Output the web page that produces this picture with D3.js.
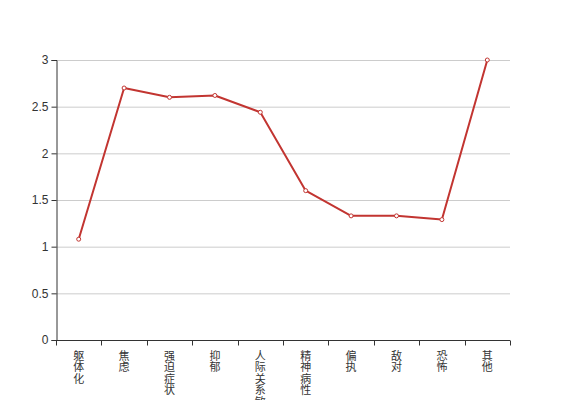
<!DOCTYPE html>
<html><head><meta charset="utf-8">
<script src="https://cdn.jsdelivr.net/npm/d3@7"></script>
<style>body{margin:0;background:#fff;} text{font-family:"Noto Sans CJK SC","DejaVu Sans",sans-serif;}</style>
</head><body><svg id="c" width="567" height="400"></svg>
<script>
const categories = ["躯体化","焦虑","强迫症状","抑郁","人际关系敏感","精神病性","偏执","敌对","恐怖","其他"];
const values = [1.08, 2.70, 2.60, 2.62, 2.44, 1.60, 1.33, 1.33, 1.29, 3.0];
const yTicks = [0, 0.5, 1, 1.5, 2, 2.5, 3];
const yTickLabels = ["0","0.5","1","1.5","2","2.5","3"];

const svg = d3.select("#c");
const m = {left:56, right:57, top:60, bottom:60};
const W = 567, H = 400;
const x = d3.scaleBand().domain(categories).range([m.left, W - m.right]);
const y = d3.scaleLinear().domain([0,3]).range([H - m.bottom, m.top]);

// grid
svg.append("g").selectAll("line").data(yTicks.filter(d=>d>0)).join("line")
  .attr("x1", m.left).attr("x2", W - m.right)
  .attr("y1", d=>y(d)+0.5).attr("y2", d=>y(d)+0.5)
  .attr("stroke","#ccc").attr("stroke-width",1);

// y axis
const ya = svg.append("g").attr("transform",`translate(${m.left+0.5},0)`)
  .call(d3.axisLeft(y).tickValues(yTicks).tickFormat((d,i)=>yTickLabels[i]).tickSize(5).tickPadding(3));
ya.select(".domain").attr("stroke","#333");
ya.selectAll(".tick line").attr("stroke","#333");
ya.selectAll(".tick text").attr("fill","#333").style("font-size","12px").style("font-family","'Liberation Sans',Arial,sans-serif");

// x axis
const xa = svg.append("g").attr("transform",`translate(0,${H - m.bottom + 0.5})`);
xa.append("line").attr("x1", m.left).attr("x2", W - m.right).attr("stroke","#333");
const bounds = categories.map(c=>x(c)).concat([W - m.right]);
xa.selectAll("line.tk").data(bounds).join("line").attr("class","tk")
  .attr("x1", d=>Math.round(d)+0.5).attr("x2", d=>Math.round(d)+0.5).attr("y1",0).attr("y2",5).attr("stroke","#333");
const lab = xa.selectAll("text.lb").data(categories).join("text").attr("class","lb")
  .attr("fill","#333").style("font-size","11px").attr("text-anchor","middle");
lab.each(function(d){
  const t = d3.select(this);
  Array.from(d).forEach((ch,i)=>{
    t.append("tspan").attr("x", x(d)+x.bandwidth()/2).attr("y", 19 + i*11.5).text(ch);
  });
});

// line
const line = d3.line().x((d,i)=>x(categories[i])+x.bandwidth()/2).y(d=>y(d));
svg.append("path").datum(values).attr("d", line).attr("fill","none")
  .attr("stroke","#c23531").attr("stroke-width",2).attr("stroke-linejoin","bevel");
svg.append("g").selectAll("circle").data(values).join("circle")
  .attr("cx",(d,i)=>x(categories[i])+x.bandwidth()/2).attr("cy",d=>y(d)).attr("r",2)
  .attr("fill","#fff").attr("stroke","#c23531").attr("stroke-width",1);
</script></body></html>
